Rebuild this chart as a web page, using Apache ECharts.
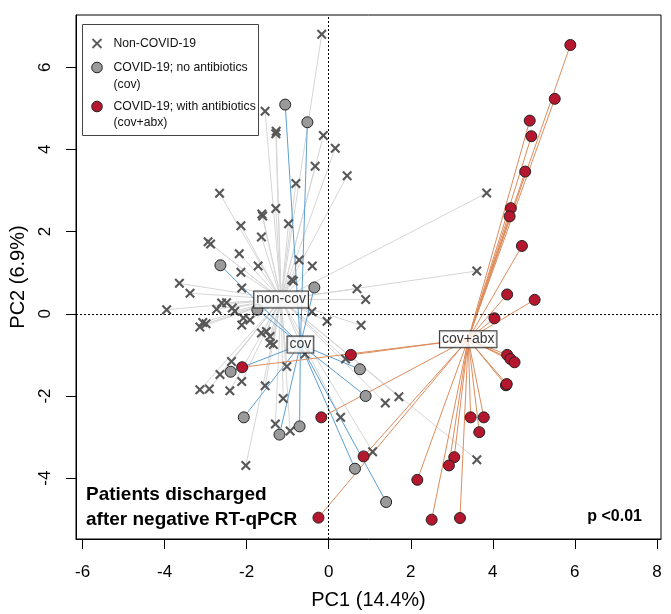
<!DOCTYPE html>
<html><head><meta charset="utf-8">
<script src="https://cdn.jsdelivr.net/npm/echarts@6/dist/echarts.min.js"></script>
<style>html,body{margin:0;padding:0;background:#fff}#c{width:671px;height:614px}</style>
</head><body><div id="c"></div>
<script>
// Non-COVID-19 samples (PC1, PC2)
const nonCov = [
[-0.17,6.80],[-1.55,4.93],[-1.28,4.44],[-1.29,4.38],[-0.13,4.34],[0.16,4.03],[-0.33,3.59],[0.45,3.36],
[-0.80,3.17],[-2.66,2.93],[-1.29,2.56],[-1.63,2.43],[-1.61,2.38],[-2.14,2.14],[-0.98,2.19],[-1.64,1.87],
[-2.94,1.75],[-2.88,1.70],[-2.18,1.46],[-0.72,1.31],[-1.72,1.16],[-0.40,1.16],[-2.14,1.01],[-0.90,0.83],
[-0.86,0.80],[-3.64,0.74],[-3.38,0.50],[-2.12,0.63],[-2.61,0.26],[-2.49,0.27],[-2.35,0.14],[-2.29,0.06],
[-2.73,0.11],[-3.95,0.10],[-3.07,-0.21],[-2.99,-0.24],[-3.14,-0.32],[-2.08,-0.10],[-1.92,-0.15],[-2.12,-0.27],
[-0.41,0.05],[-0.04,-0.18],[-1.64,-0.47],[-1.52,-0.43],[-1.43,-0.55],[-1.43,-0.71],[-1.35,-0.75],[0.69,0.61],
[0.90,0.35],[0.79,-0.28],[3.61,1.04],[3.85,2.94],[-2.37,-1.16],[-2.65,-1.48],[-2.12,-1.65],[-3.14,-1.85],
[-2.91,-1.83],[-2.41,-1.87],[-1.02,-1.28],[-1.55,-1.75],[-1.11,-2.06],[-0.58,-0.98],[0.41,-1.10],[0.29,-2.52],
[-1.30,-2.68],[-0.94,-2.85],[-2.02,-3.69],[1.71,-2.02],[1.38,-2.17],[1.07,-3.36],[3.61,-3.55]
];
// COVID-19, no antibiotics (cov)
const cov = [
[-1.06,5.09],[-0.52,4.66],[-2.64,1.18],[-0.35,0.64],[-1.74,0.10],[-2.39,-1.41],[0.76,-1.35],
[0.90,-2.00],[-2.07,-2.52],[-1.20,-2.94],[-0.71,-2.74],[0.64,-3.77],[1.40,-4.58]
];
// COVID-19, with antibiotics (cov+abx)
const covAbx = [
[5.89,6.54],[5.51,5.23],[4.90,4.70],[4.94,4.32],[4.79,3.46],[4.44,2.57],[4.41,2.37],[4.71,1.65],
[4.35,0.47],[5.02,0.34],[4.04,-0.11],[4.35,-1.00],[4.43,-1.10],[4.53,-1.18],[4.32,-1.74],[4.34,-1.71],
[-2.11,-1.30],[0.54,-1.00],[-0.18,-2.52],[-0.25,-4.96],[3.46,-2.52],[3.78,-2.52],[3.67,-2.88],[0.85,-3.47],
[3.06,-3.49],[2.93,-3.69],[2.16,-4.04],[2.51,-5.01],[3.20,-4.97]
];
// group centroids and labels
const centroidNames = ['non-cov','cov','cov+abx'];
const centroids = [[-1.16,0.35],[-0.69,-0.75],[3.40,-0.62]];
const xTicks = [-6,-4,-2,0,2,4,6,8];
const yTicks = [-4,-2,0,2,4,6];
const legendNames = ['Non-COVID-19','COVID-19; no antibiotics\n(cov)','COVID-19; with antibiotics\n(cov+abx)'];

const FONT = 'Liberation Sans, Arial, Helvetica, sans-serif';
const XPATH = 'path://M0,1.5L1.5,0L5,3.5L8.5,0L10,1.5L6.5,5L10,8.5L8.5,10L5,6.5L1.5,10L0,8.5L3.5,5Z';

function spider(points, c){ return points.map(p => ({coords:[p, c]})); }

const chart = echarts.init(document.getElementById('c'), null, {renderer:'canvas'});
const option = {
  animation:false,
  grid:{left:76, right:10, top:15, bottom:75, outerBoundsMode:'none', containLabel:false,
        show:true, borderColor:'#000', borderWidth:1, backgroundColor:'transparent'},
  xAxis:{type:'value', min:-6.16, max:8.1, splitLine:{show:false},
    axisLine:{show:true, onZero:false, lineStyle:{color:'#000'}},
    axisTick:{show:true, length:10, lineStyle:{color:'#000'}, customValues:xTicks},
    axisLabel:{show:true, customValues:xTicks, color:'#000', fontSize:17, fontFamily:FONT, margin:25},
    name:'PC1 (14.4%)', nameLocation:'middle', nameGap:51,
    nameTextStyle:{color:'#000', fontSize:20, fontFamily:FONT}},
  yAxis:{type:'value', min:-5.48, max:7.27, splitLine:{show:false},
    axisLine:{show:true, onZero:false, lineStyle:{color:'#000'}},
    axisTick:{show:true, length:10, lineStyle:{color:'#000'}, customValues:yTicks},
    axisLabel:{show:true, customValues:yTicks, rotate:90, color:'#000', fontSize:17, fontFamily:FONT, margin:22},
    name:'PC2 (6.9%)', nameLocation:'middle', nameGap:48, nameRotate:90,
    nameTextStyle:{color:'#000', fontSize:20, fontFamily:FONT}},
  series:[
    {type:'lines', coordinateSystem:'cartesian2d', silent:true, z:1,
     lineStyle:{color:'#d6d6d6', width:1, opacity:1}, data:spider(nonCov, centroids[0])},
    {type:'lines', coordinateSystem:'cartesian2d', silent:true, z:2,
     lineStyle:{color:'#5c9fd2', width:1, opacity:1}, data:spider(cov, centroids[1])},
    {type:'lines', coordinateSystem:'cartesian2d', silent:true, z:2,
     lineStyle:{color:'#dd8c5c', width:1, opacity:1}, data:spider(covAbx, centroids[2])},
    {type:'scatter', name:'Non-COVID-19', z:3, symbol:XPATH, symbolSize:10, data:nonCov,
     itemStyle:{color:'#585858', opacity:1},
     markLine:{silent:true, symbol:'none', label:{show:false},
       lineStyle:{color:'#000', type:[2,2], width:1},
       data:[{xAxis:0},{yAxis:0}]}},
    {type:'scatter', name:'cov', z:4, symbol:'circle', symbolSize:11, data:cov,
     itemStyle:{color:'#9a9a9a', borderColor:'#222', borderWidth:1, opacity:1}},
    {type:'scatter', name:'cov+abx', z:4, symbol:'circle', symbolSize:11, data:covAbx,
     itemStyle:{color:'#b5172e', borderColor:'#222', borderWidth:1, opacity:1}},
    {type:'scatter', name:'centroids', z:10, symbolSize:0, silent:true,
     data:centroids.map((c,i)=>({value:c, name:centroidNames[i]})),
     label:{show:true, position:'inside', formatter:p=>p.name, color:'#000', fontSize:14, fontFamily:FONT,
       backgroundColor:'#fff', borderColor:'#000', borderWidth:1, padding:[1,2,0,2], lineHeight:15}}
  ],
  graphic:[
    {type:'group', left:82, top:24, z:100, children:[
      {type:'rect', shape:{x:0,y:0,width:176,height:111}, style:{fill:'#fff', stroke:'#444', lineWidth:1}},
      {type:'line', shape:{x1:10,y1:14.5,x2:19,y2:23.5}, style:{stroke:'#5a5a5a', lineWidth:1.8}},
      {type:'line', shape:{x1:19,y1:14.5,x2:10,y2:23.5}, style:{stroke:'#5a5a5a', lineWidth:1.8}},
      {type:'circle', shape:{cx:14.5,cy:43,r:5.3}, style:{fill:'#9a9a9a', stroke:'#222', lineWidth:1}},
      {type:'circle', shape:{cx:14.5,cy:82,r:5.3}, style:{fill:'#b5172e', stroke:'#222', lineWidth:1}},
      {type:'text', x:31, y:19, style:{text:legendNames[0], fill:'#111', fontSize:12.2, fontFamily:FONT, verticalAlign:'middle'}},
      {type:'text', x:31, y:35, style:{text:legendNames[1], fill:'#111', fontSize:12.2, fontFamily:FONT, lineHeight:16.5, verticalAlign:'top'}},
      {type:'text', x:31, y:74, style:{text:legendNames[2], fill:'#111', fontSize:12.2, fontFamily:FONT, lineHeight:16, verticalAlign:'top'}}
    ]},
    {type:'text', x:86, y:482, z:100, style:{text:'Patients discharged\nafter negative RT-qPCR', fill:'#000', fontSize:19, fontWeight:'bold', fontFamily:FONT, lineHeight:25}},
    {type:'text', x:642, y:517, z:100, style:{text:'p <0.01', fill:'#000', fontSize:16, fontWeight:'bold', fontFamily:FONT, align:'right', verticalAlign:'middle'}}
  ]
};
chart.setOption(option);
</script></body></html>
